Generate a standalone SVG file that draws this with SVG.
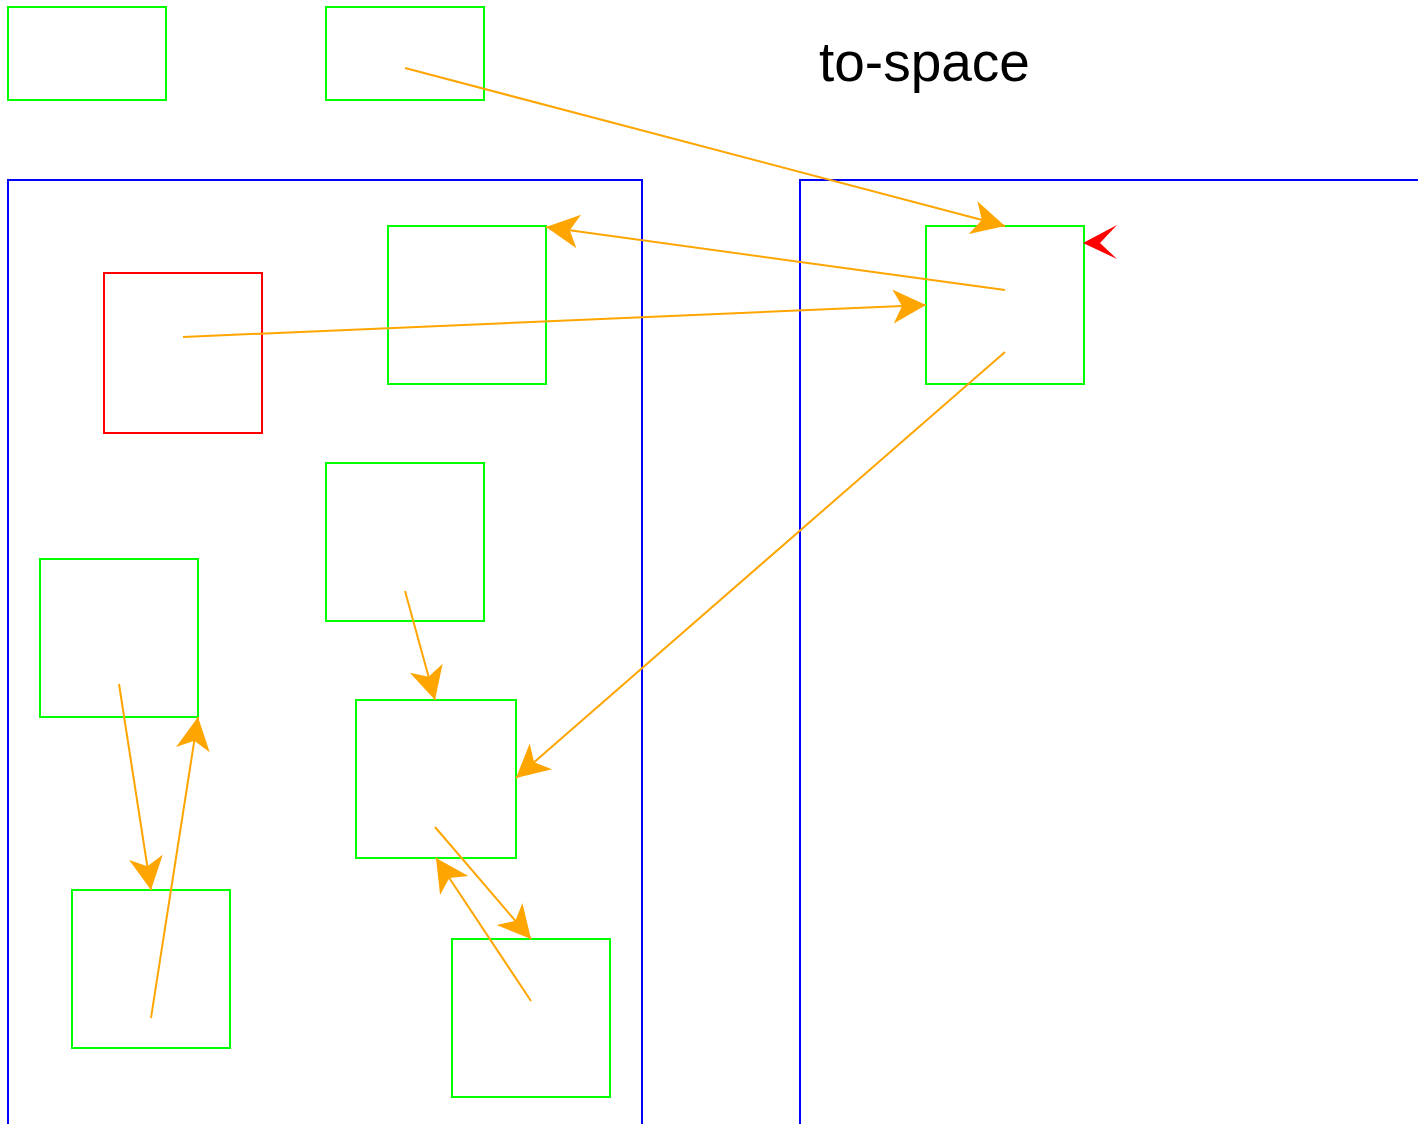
<svg xmlns="http://www.w3.org/2000/svg" width="1418" height="1124" viewBox="0 0 1418 1124">
<style>
.obj{fill:none;stroke:#00FF00;stroke-width:2}
.root{fill:none;stroke:#FF0000;stroke-width:2}
.space{fill:none;stroke:#0000FF;stroke-width:2}
.ptr{fill:none;stroke:#FFA500;stroke-width:2;marker-end:url(#ah)}
.lbl{font-family:"Liberation Sans",Arial,sans-serif;font-size:55px;fill:#000}
</style>
<defs>
<marker id="ah" markerUnits="userSpaceOnUse" viewBox="-35 -18 36 36" refX="0" refY="0" markerWidth="36" markerHeight="36" orient="auto">
<path d="M0,0 L-33,-17 L-24,0 L-33,17 Z" fill="#FFA500"/>
</marker>
</defs>
<rect width="1418" height="1124" fill="#fff"/>
<g id="from-space"><rect class="space" x="8" y="180" width="634" height="960"/></g>
<g id="to-space"><rect class="space" x="800" y="180" width="640" height="960"/>
<text class="lbl" x="819" y="81">to-space</text></g>
<g id="obj-top1"><rect class="obj" x="8" y="7" width="158" height="93"/></g>
<g id="obj-top2"><rect class="obj" x="326" y="7" width="158" height="93"/></g>
<g id="root"><rect class="root" x="104" y="273" width="158" height="160"/></g>
<g id="obj-a"><rect class="obj" x="388" y="226" width="158" height="158"/></g>
<g id="obj-b"><rect class="obj" x="326" y="463" width="158" height="158"/></g>
<g id="obj-c"><rect class="obj" x="40" y="559" width="158" height="158"/></g>
<g id="obj-d"><rect class="obj" x="356" y="700" width="160" height="158"/></g>
<g id="obj-e"><rect class="obj" x="72" y="890" width="158" height="158"/></g>
<g id="obj-f"><rect class="obj" x="452" y="939" width="158" height="158"/></g>
<g id="obj-copy"><rect class="obj" x="926" y="226" width="158" height="158"/></g>
<g id="connectors">
<line class="ptr" x1="405" y1="68" x2="1005" y2="226"/>
<line class="ptr" x1="1005" y1="290" x2="546" y2="227"/>
<line class="ptr" x1="183" y1="337" x2="926" y2="305"/>
<line class="ptr" x1="1005" y1="352" x2="516" y2="778"/>
<line class="ptr" x1="405" y1="591" x2="435" y2="700"/>
<line class="ptr" x1="119" y1="684" x2="151" y2="890"/>
<line class="ptr" x1="151" y1="1018" x2="198" y2="717"/>
<line class="ptr" x1="435" y1="827" x2="531" y2="939"/>
<line class="ptr" x1="531" y1="1001" x2="436" y2="858"/>
<polygon points="1083,243 1117,225 1100,243 1117,259" fill="#FF0000"/>
</g>
</svg>
